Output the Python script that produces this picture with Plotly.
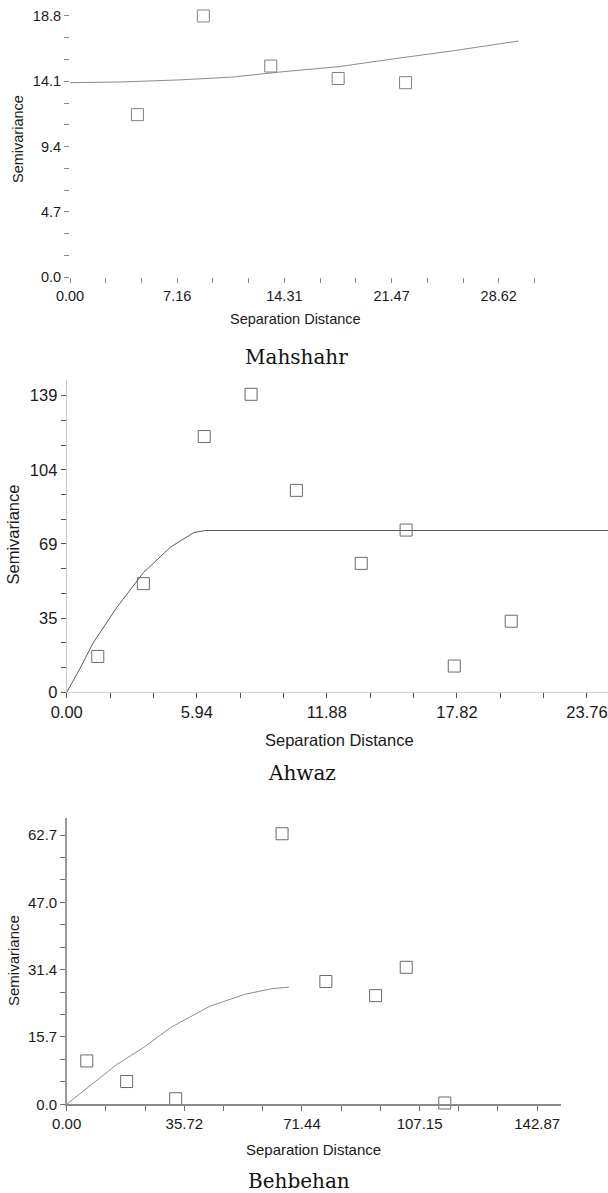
import plotly.graph_objects as go

# ---------------- data ----------------
# Mahshahr
mah_lag = [4.5, 8.9, 13.4, 17.9, 22.4]
mah_gamma = [11.7, 18.8, 15.2, 14.3, 14.0]
mah_model_lag = [0.0, 3.3, 7.3, 10.8, 14.3, 17.9, 21.5, 25.6, 29.95]
mah_model_gamma = [14.0, 14.05, 14.2, 14.4, 14.8, 15.15, 15.7, 16.3, 17.0]
mah_xticks = [0.0, 7.155, 14.31, 21.465, 28.62]
mah_xlabels = ["0.00", "7.16", "14.31", "21.47", "28.62"]
mah_yticks = [0.0, 4.7, 9.4, 14.1, 18.8]
mah_ylabels = ["0.0", "4.7", "9.4", "14.1", "18.8"]

# Ahwaz
ahw_lag = [1.42, 3.5, 6.28, 8.42, 10.49, 13.45, 15.5, 17.7, 20.3]
ahw_gamma = [16.8, 50.9, 119.8, 139.6, 94.6, 60.4, 76.0, 12.3, 33.3]
ahw_model_lag = [0.0, 0.6, 1.2, 2.27, 3.5, 4.74, 5.8, 6.33, 29.7]
ahw_model_gamma = [0.0, 11.0, 23.0, 39.5, 56.0, 68.0, 74.8, 75.8, 75.8]
ahw_xticks = [0.0, 5.94, 11.88, 17.82, 23.76]
ahw_xlabels = ["0.00", "5.94", "11.88", "17.82", "23.76"]
ahw_yticks = [0.0, 34.75, 69.5, 104.25, 139.0]
ahw_ylabels = ["0", "35", "69", "104", "139"]

# Behbehan
beh_lag = [6.1, 18.2, 33.1, 65.4, 78.7, 93.8, 103.1, 114.8]
beh_gamma = [10.1, 5.3, 1.3, 63.0, 28.6, 25.3, 31.9, 0.3]
beh_model_lag = [0.0, 8.0, 15.1, 23.3, 31.6, 43.4, 54.0, 62.2, 67.5]
beh_model_gamma = [0.0, 4.8, 9.2, 13.2, 17.9, 22.8, 25.6, 26.9, 27.3]
beh_xticks = [0.0, 35.7175, 71.435, 107.1525, 142.87]
beh_xlabels = ["0.00", "35.72", "71.44", "107.15", "142.87"]
beh_yticks = [0.0, 15.675, 31.35, 47.025, 62.7]
beh_ylabels = ["0.0", "15.7", "31.4", "47.0", "62.7"]

titles = ["Mahshahr", "Ahwaz", "Behbehan"]

# ---------------- layout helpers ----------------
W, H = 608, 1193


def px(x):
    return x / W


def py(y):
    return 1 - y / H


SANS = "Liberation Sans, Arial, sans-serif"
SERIF = "DejaVu Serif, serif"
TXT = "#1a1a1a"

fig = go.Figure()

panels = [
    dict(lag=mah_lag, g=mah_gamma, mx=mah_model_lag, my=mah_model_gamma,
         line="#8c8c8c", mk="#808080"),
    dict(lag=ahw_lag, g=ahw_gamma, mx=ahw_model_lag, my=ahw_model_gamma,
         line="#5a5a5a", mk="#6a6a6a"),
    dict(lag=beh_lag, g=beh_gamma, mx=beh_model_lag, my=beh_model_gamma,
         line="#8c8c8c", mk="#6a6a6a"),
]

for i, p in enumerate(panels):
    sx = "" if i == 0 else str(i + 1)
    fig.add_trace(go.Scatter(x=p["mx"], y=p["my"], mode="lines",
                             line=dict(color=p["line"], width=1),
                             xaxis="x" + sx, yaxis="y" + sx,
                             showlegend=False, hoverinfo="skip"))
    fig.add_trace(go.Scatter(x=p["lag"], y=p["g"], mode="markers",
                             marker=dict(symbol="square-open", size=12,
                                         color=p["mk"],
                                         line=dict(width=1, color=p["mk"])),
                             cliponaxis=False,
                             xaxis="x" + sx, yaxis="y" + sx,
                             showlegend=False))


def axis(dom, rng, tv, tt, minor, fs, linecolor, linewidth, showline, tickcolor, anchor):
    return dict(domain=dom, range=rng, tickmode="array", tickvals=tv, ticktext=tt,
                ticks="outside", ticklen=5, tickcolor=tickcolor, tickwidth=1,
                minor=dict(tickmode="linear", tick0=0, dtick=minor, ticks="outside",
                           ticklen=5, tickcolor=tickcolor, tickwidth=1, showgrid=False),
                showgrid=False, zeroline=False, showline=showline,
                linecolor=linecolor, linewidth=linewidth, automargin=False,
                tickfont=dict(family=SANS, size=fs, color=TXT),
                anchor=anchor, fixedrange=True)


# Panel 1 (Mahshahr): x0 at 70px, 14.98 px/unit; y0 at 277.3px, 13.9 px/unit
p1_x0, p1_xr = 70.0, 33.0
p1_x1 = p1_x0 + p1_xr * 14.98
p1_y0, p1_yr = 277.3, 19.6
p1_y1 = p1_y0 - p1_yr * 13.9

# Panel 2 (Ahwaz)
p2_x0, p2_xr = 66.7, 24.72
p2_x1 = 608.0
p2_y0, p2_y1, p2_yr = 692.3, 380.0, 146.3

# Panel 3 (Behbehan)
p3_x0, p3_x1, p3_xr = 66.7, 561.0, 150.1
p3_y0, p3_y1, p3_yr = 1104.3, 818.3, 66.6

fig.update_layout(
    template="none",
    width=W, height=H,
    margin=dict(l=0, r=0, t=0, b=0, autoexpand=False),
    paper_bgcolor="white", plot_bgcolor="white",
    xaxis=axis([px(p1_x0), px(p1_x1)], [0, p1_xr], mah_xticks, mah_xlabels,
               28.62 / 12, 14.5, "#fff", 1, False, "#8a8a8a", "y"),
    yaxis=axis([py(p1_y0), py(p1_y1)], [0, p1_yr], mah_yticks, mah_ylabels,
               4.7 / 3, 14.5, "#fff", 1, False, "#8a8a8a", "x"),
    xaxis2=axis([px(p2_x0), px(p2_x1)], [0, p2_xr], ahw_xticks, ahw_xlabels,
                1.98, 16.5, "#d4d4d4", 1, True, "#505050", "y2"),
    yaxis2=axis([py(p2_y0), py(p2_y1)], [0, p2_yr], ahw_yticks, ahw_ylabels,
                139.0 / 12, 16.5, "#c8c8c8", 1, True, "#505050", "x2"),
    xaxis3=axis([px(p3_x0), px(p3_x1)], [0, p3_xr], beh_xticks, beh_xlabels,
                142.87 / 12, 15, "#8a8a8a", 2, True, "#707070", "y3"),
    yaxis3=axis([py(p3_y0), py(p3_y1)], [0, p3_yr], beh_yticks, beh_ylabels,
                62.7 / 12, 15, "#999999", 1.5, True, "#707070", "x3"),
)

ann = []
# axis titles
for (cx, cy, fs) in [(295, 319, 14.5), (339, 740, 16.5), (313, 1149, 15)]:
    ann.append(dict(x=px(cx), y=py(cy), xref="paper", yref="paper",
                    text="Separation Distance", showarrow=False,
                    font=dict(family=SANS, size=fs, color=TXT),
                    xanchor="center", yanchor="middle"))
for (cx, cy, fs) in [(18, 139, 14.5), (12.5, 535, 16.5), (13, 961, 15)]:
    ann.append(dict(x=px(cx), y=py(cy), xref="paper", yref="paper",
                    text="Semivariance", showarrow=False, textangle=-90,
                    font=dict(family=SANS, size=fs, color=TXT),
                    xanchor="center", yanchor="middle"))
# captions
for t, (cx, cy) in zip(titles, [(296, 357), (301.5, 773), (299, 1181)]):
    ann.append(dict(x=px(cx), y=py(cy), xref="paper", yref="paper",
                    text=t, showarrow=False,
                    font=dict(family=SERIF, size=20, color="#111"),
                    xanchor="center", yanchor="middle"))
fig.update_layout(annotations=ann)

fig.write_html("out.html",
               config={"displayModeBar": False, "staticPlot": True},
               post_script="document.body.style.margin='0';"
                           "document.body.style.padding='0';"
                           "document.body.style.overflow='hidden';")
